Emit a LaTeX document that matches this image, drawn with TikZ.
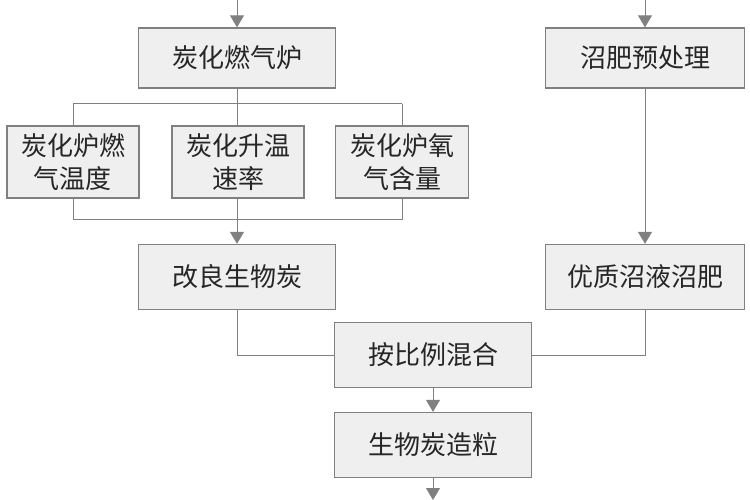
\documentclass[tikz,border=0pt]{standalone}
\usepackage{fontspec}
\newfontfamily\cjk{Noto Sans CJK SC}
\usetikzlibrary{arrows.meta}
\definecolor{bx}{HTML}{EFEFEF}
\definecolor{ln}{HTML}{808080}
\begin{document}
\begin{tikzpicture}[x=1pt,y=-1pt,
  box/.style={draw=ln,fill=bx,line width=1.3pt,inner sep=0pt,font=\cjk\fontsize{26}{33}\selectfont,text=black!85,align=center},
  con/.style={draw=ln,line width=1pt},
  arr/.style={con,-{Triangle[length=12pt,width=14pt]}}]
\useasboundingbox (0,0) rectangle (750,500);
\node[box,minimum width=197,minimum height=60] (a) at (237,58) {炭化燃气炉};
\node[box,minimum width=199,minimum height=60] (b) at (645,58) {沼肥预处理};
\node[box,minimum width=132,minimum height=72] (c1) at (73,162) {炭化炉燃\\气温度};
\node[box,minimum width=133,minimum height=72] (c3) at (402,162) {炭化炉氧\\气含量};
\node[box,minimum width=197,minimum height=65] (d) at (237,277) {改良生物炭};
\node[box,minimum width=199,minimum height=65] (e) at (645,277) {优质沼液沼肥};
\node[box,minimum width=197,minimum height=65] (f) at (433,355) {按比例混合};
\node[box,minimum width=197,minimum height=65] (g) at (433,445) {生物炭造粒};
\coordinate (ta) at (237,0);
\coordinate (tb) at (645,0);
\coordinate (bg) at (433,500);
\coordinate (h1) at (73,104);
\coordinate (h2) at (402,104);
\coordinate (l1) at (73,219);
\coordinate (l2) at (402,219);
\draw[arr] (ta) -- (a);
\draw[arr] (tb) -- (b);
\draw[con] (h1) -- (h2);
\draw[con] (h1) -- (c1.north);
\draw[con] (h2) -- (c3.north);
\draw[con] (c1.south) -- (l1) -- (l2) -- (c3.south);
\draw[arr] (a.south) -- (d.north);
\draw[con] (d.south) |- (f.west);
\draw[con] (e.south) |- (f.east);
\draw[arr] (b) -- (e);
\draw[arr] (f) -- (g);
\draw[arr] (g) -- (bg);
\node[box,minimum width=132,minimum height=72] (c2) at (238,162) {炭化升温\\速率};
\end{tikzpicture}
\end{document}
